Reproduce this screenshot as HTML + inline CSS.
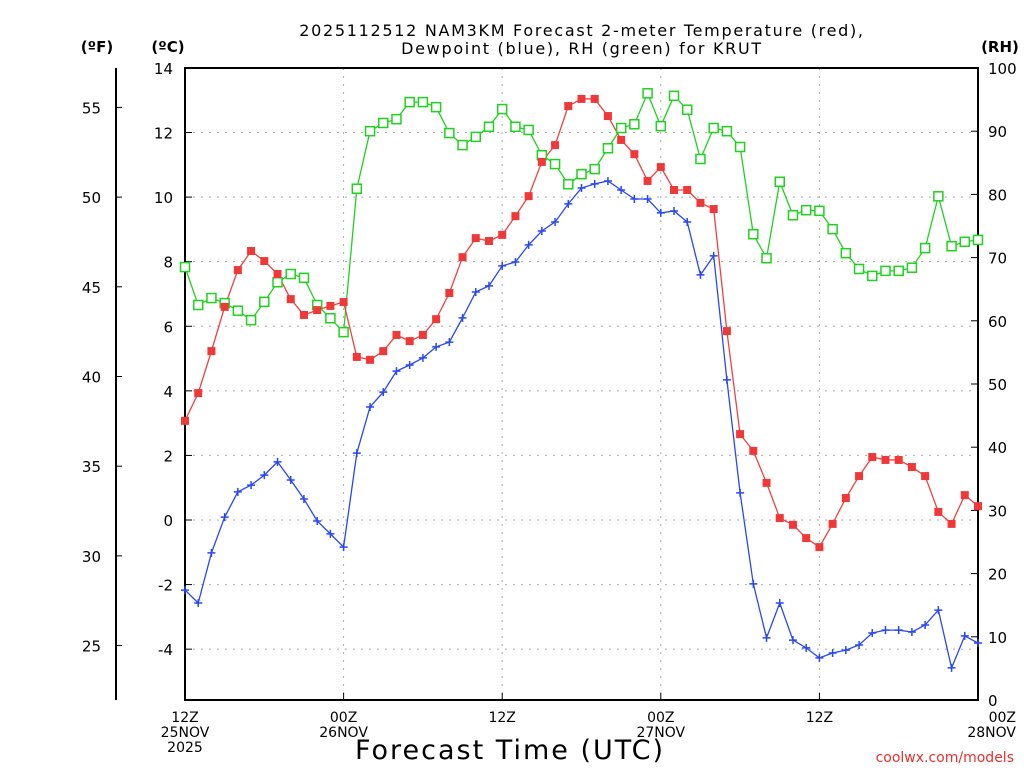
<!DOCTYPE html>
<html><head><meta charset="utf-8"><style>
body{margin:0;background:#fff;}
svg{display:block;font-family:"DejaVu Sans","Liberation Sans",sans-serif;}
</style></head><body>
<svg id="c" width="1024" height="768" viewBox="0 0 1024 768">
<g id="grid"></g>
<g id="axes"></g>
<g id="series"></g>
<text x="582" y="36" text-anchor="middle" font-size="16" letter-spacing="1.7">2025112512 NAM3KM Forecast 2-meter Temperature (red),</text>
<text x="582" y="54" text-anchor="middle" font-size="16" letter-spacing="1.7">Dewpoint (blue), RH (green) for KRUT</text>
<text x="97" y="52" text-anchor="middle" font-size="15" font-weight="bold">(ºF)</text>
<text x="168" y="52" text-anchor="middle" font-size="15" font-weight="bold">(ºC)</text>
<text x="1000" y="52" text-anchor="middle" font-size="15" font-weight="bold">(RH)</text>
<text x="510" y="759" text-anchor="middle" font-size="27" letter-spacing="2">Forecast Time (UTC)</text>
<text x="1014" y="762" text-anchor="end" font-size="14" fill="#e83030">coolwx.com/models</text>
</svg>
<script>
const hours=[];for(let i=0;i<=60;i++)hours.push(i);
const tempC=[3.07,3.93,5.23,6.60,7.74,8.33,8.02,7.62,6.84,6.35,6.50,6.63,6.75,5.05,4.96,5.23,5.73,5.54,5.73,6.22,7.03,8.14,8.73,8.64,8.83,9.41,10.03,11.09,11.61,12.82,13.04,13.04,12.51,11.77,11.33,10.50,10.93,10.22,10.22,9.82,9.63,5.85,2.66,2.14,1.15,0.06,-0.15,-0.56,-0.84,-0.12,0.68,1.36,1.95,1.86,1.86,1.64,1.36,0.25,-0.12,0.77,0.43];
const dewC=[-2.17,-2.57,-1.02,0.09,0.87,1.08,1.39,1.80,1.24,0.65,-0.03,-0.43,-0.84,2.07,3.50,3.96,4.61,4.80,5.02,5.36,5.51,6.26,7.06,7.25,7.87,7.99,8.52,8.95,9.23,9.79,10.28,10.41,10.50,10.22,9.94,9.94,9.51,9.57,9.23,7.59,8.18,4.34,0.84,-1.98,-3.65,-2.57,-3.72,-3.96,-4.27,-4.12,-4.03,-3.87,-3.50,-3.41,-3.41,-3.47,-3.25,-2.79,-4.58,-3.59,-3.81];
const rh=[68.5,62.5,63.6,62.8,61.6,60.1,63.0,66.1,67.4,66.8,62.5,60.4,58.2,80.9,90.0,91.3,91.9,94.6,94.6,93.8,89.7,87.8,89.1,90.7,93.5,90.7,90.2,86.2,84.8,81.6,83.2,84.0,87.3,90.5,91.1,96.0,90.8,95.6,93.4,85.6,90.5,90.0,87.5,73.7,69.9,82.0,76.7,77.5,77.4,74.5,70.7,68.2,67.1,67.9,67.9,68.4,71.5,79.7,71.8,72.5,72.8];
const cTicks=[14,12,10,8,6,4,2,0,-2,-4];
const fTicks=[55,50,45,40,35,30,25];
const rhTicks=[100,90,80,70,60,50,40,30,20,10,0];
const xTickHours=[0,12,24,36,48];
const xTickLabels=[["12Z","25NOV","2025"],["00Z","26NOV"],["12Z"],["00Z","27NOV"],["12Z"]];
const endLabel=["00Z","28NOV"];

const L=185,R=978,T=68,B=700;
const x=h=>L+(R-L)*h/60;
const yC=c=>520-c*32.29;
const yF=f=>yC((f-32)/1.8);
const yR=r=>B-(B-T)*r/100;
const NS="http://www.w3.org/2000/svg";
function mk(p,tag,a){const e=document.createElementNS(NS,tag);for(const k in a)e.setAttribute(k,a[k]);p.appendChild(e);return e;}
const grid=document.getElementById('grid'),axes=document.getElementById('axes'),ser=document.getElementById('series');
cTicks.forEach(c=>{if(c<14){const l=mk(grid,'line',{x1:L,x2:R,y1:yC(c),y2:yC(c),stroke:'#aaa','stroke-dasharray':'2,6'});

}
const t=mk(axes,'text',{x:173,y:yC(c)+6,'text-anchor':'end','font-size':15});t.textContent=c;


mk(axes,'line',{x1:L,x2:L+7,y1:yC(c),y2:yC(c),stroke:'#000'});});
[12,24,36,48].forEach(h=>{const l=mk(grid,'line',{x1:x(h),x2:x(h),y1:T,y2:B,stroke:'#aaa','stroke-dasharray':'2,6'});

});
fTicks.forEach(f=>{const t=mk(axes,'text',{x:101,y:yF(f)+6,'text-anchor':'end','font-size':15});t.textContent=f;


mk(axes,'line',{x1:116,x2:122,y1:yF(f),y2:yF(f),stroke:'#000'});});
rhTicks.forEach(r=>{const t=mk(axes,'text',{x:988,y:yR(r)+6,'font-size':15});t.textContent=r;


mk(axes,'line',{x1:R-7,x2:R,y1:yR(r),y2:yR(r),stroke:'#000'});});
xTickHours.forEach((h,i)=>{xTickLabels[i].forEach((s,j)=>{const t=mk(axes,'text',{x:x(h),y:722+j*15,'text-anchor':'middle','font-size':14});t.textContent=s;

});
mk(axes,'line',{x1:x(h),x2:x(h),y1:B,y2:B-7,stroke:'#000'});});
endLabel.forEach((s,j)=>{const t=mk(axes,'text',{x:1016,y:722+j*15,'text-anchor':'end','font-size':14});t.textContent=s;

});
mk(axes,'rect',{x:L,y:T,width:R-L,height:B-T,fill:'none',stroke:'#000','stroke-width':2});
mk(axes,'line',{x1:116,x2:116,y1:T,y2:B,stroke:'#000','stroke-width':2});
function line(arr,fy,col,name){const p=mk(ser,'polyline',{points:arr.map((v,i)=>x(hours[i])+','+fy(v)).join(' '),fill:'none',stroke:col,'stroke-width':1.3});

}
line(rh,yR,'#1ed21e','rh-line');
line(tempC,yC,'#f04040','temperature-line');
line(dewC,yC,'#2848f0','dewpoint-line');
rh.forEach((v,i)=>{const m=mk(ser,'rect',{x:x(hours[i])-4.5,y:yR(v)-4.5,width:9,height:9,fill:'#fff',stroke:'#1ed21e','stroke-width':1.5});

});
tempC.forEach((v,i)=>{const m=mk(ser,'rect',{x:x(hours[i])-4,y:yC(v)-4,width:8,height:8,fill:'#f03838'});

});
dewC.forEach((v,i)=>{const cx=x(hours[i]),cy=yC(v);const m=mk(ser,'path',{d:`M${cx-4} ${cy}H${cx+4}M${cx} ${cy-4}V${cy+4}`,stroke:'#2848f0','stroke-width':1.5});

});
</script>
</body></html>
